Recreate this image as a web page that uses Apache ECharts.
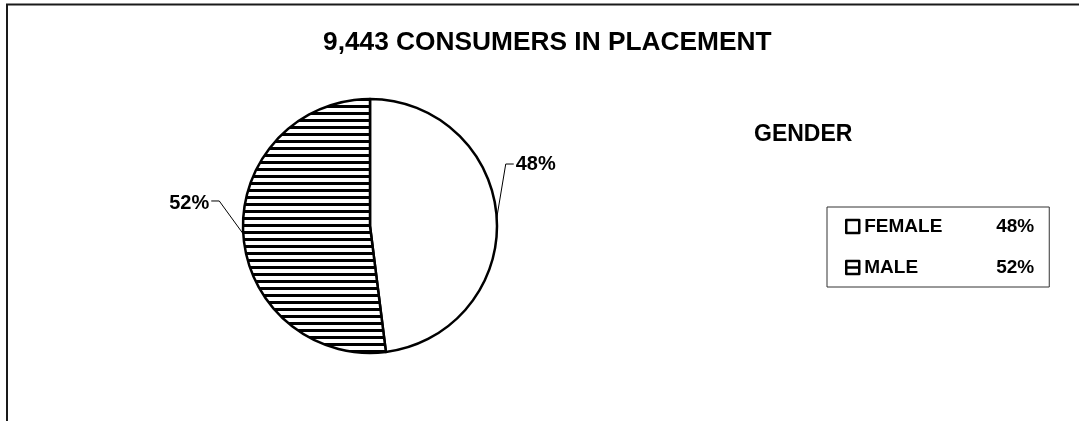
<!DOCTYPE html>
<html>
<head>
<meta charset="utf-8">
<script src="https://cdn.jsdelivr.net/npm/echarts@6/dist/echarts.min.js"></script>
<style>
  html, body { margin: 0; padding: 0; background: #fff; }
  #chart { width: 1079px; height: 421px; }
</style>
</head>
<body>
<div id="chart"></div>
<script>
  // data
  var titleText = '9,443 CONSUMERS IN PLACEMENT';
  var subTitle = 'GENDER';
  var categories = ['FEMALE', 'MALE'];
  var shares = [48, 52];

  // horizontal stripe fill for the MALE slice
  function stripes() {
    var c = document.createElement('canvas');
    c.width = 8; c.height = 7;
    var ctx = c.getContext('2d');
    ctx.fillStyle = '#fff';
    ctx.fillRect(0, 0, 8, 7);
    ctx.fillStyle = '#000';
    ctx.fillRect(0, 0, 8, 3);
    return c;
  }

  var fills = ['#ffffff', { image: stripes(), repeat: 'repeat' }];
  var icons = ['path://M0,0H12V12H0Z', 'path://M0,0H12V12H0Z M0,6H12'];

  var pieData = categories.map(function (name, i) {
    return { name: name, value: shares[i], itemStyle: { color: fills[i] } };
  });

  var dom = echarts.init(document.getElementById('chart'));
  var option = {
    animation: false,
    title: [{
      text: titleText,
      left: 318,
      top: 25,
      textStyle: { fontFamily: 'Liberation Sans', fontWeight: 'bold', fontSize: 26.3, color: '#000' }
    }, {
      text: subTitle,
      left: 749,
      top: 118,
      textStyle: { fontFamily: 'Liberation Sans', fontWeight: 'bold', fontSize: 23, color: '#000' }
    }],
    legend: {
      orient: 'vertical',
      left: 827,
      top: 207,
      padding: [10, 15, 10, 18],
      itemWidth: 13,
      itemHeight: 13,
      itemGap: 22,
      borderColor: '#333',
      borderWidth: 1,
      data: categories.map(function (name, i) {
        return { name: name, icon: icons[i], itemStyle: { color: '#fff', borderColor: '#000', borderWidth: 2.5 } };
      }),
      formatter: function (name) {
        var i = categories.indexOf(name);
        return '{a|' + name + '}{b|' + shares[i] + '%}';
      },
      textStyle: {
        rich: {
          a: { fontFamily: 'Liberation Sans', fontWeight: 'bold', fontSize: 19, color: '#000', width: 132 },
          b: { fontFamily: 'Liberation Sans', fontWeight: 'bold', fontSize: 19, color: '#000', width: 38, align: 'right' }
        }
      }
    },
    graphic: [{
      type: 'polyline',
      shape: { points: [[7, 421], [7, 4.5], [1079, 4.5]] },
      style: { stroke: '#1a1a1a', lineWidth: 2, fill: null }
    }],
    series: [{
      type: 'pie',
      center: [370, 226],
      radius: 127,
      startAngle: 90,
      clockwise: true,
      data: pieData,
      itemStyle: { borderColor: '#000', borderWidth: 2.5 },
      emphasis: { disabled: true },
      label: {
        show: true,
        position: 'outside',
        formatter: '{c}%',
        fontFamily: 'Liberation Sans',
        fontWeight: 'bold',
        fontSize: 20,
        color: '#000'
      },
      labelLine: { show: true, lineStyle: { color: '#000', width: 1 } },
      labelLayout: function (p) {
        var p0 = p.labelLinePoints ? p.labelLinePoints[0] : [0, 0];
        if (p.dataIndex === 0) {
          return {
            x: p0[0] + 19, y: p0[1] - 54, align: 'left', verticalAlign: 'middle',
            labelLinePoints: [p0, [p0[0] + 9, p0[1] - 54], [p0[0] + 17, p0[1] - 54]]
          };
        }
        return {
          x: p0[0] - 34, y: p0[1] - 30, align: 'right', verticalAlign: 'middle',
          labelLinePoints: [p0, [p0[0] - 24, p0[1] - 33], [p0[0] - 32, p0[1] - 33]]
        };
      }
    }]
  };
  dom.setOption(option);
</script>
</body>
</html>
